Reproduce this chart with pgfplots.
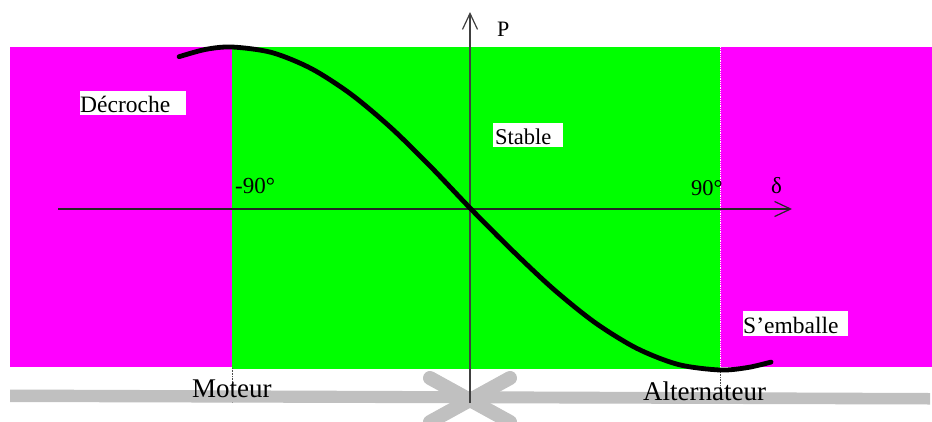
\documentclass[border=0pt]{standalone}
\usepackage{pgfplots}
\pgfplotsset{compat=1.18}
\usepackage{fontspec}
\setmainfont{Liberation Serif}
\usetikzlibrary{arrows.meta}
\definecolor{mag}{HTML}{FF00FF}
\definecolor{grn}{HTML}{00FF00}
\definecolor{band}{HTML}{C0C0C0}
\begin{document}
\begin{tikzpicture}
\begin{axis}[name=ax,
  width=932pt, height=421pt, scale only axis,
  xmin=0, xmax=932, ymin=0, ymax=421, y dir=reverse,
  hide axis]
% background
\addplot[fill=white, draw=none] coordinates {(0,0)(932,0)(932,421)(0,421)} -- cycle;
% zones
\addplot[fill=mag, draw=none] coordinates {(10,47)(232,47)(232,367)(10,367)} -- cycle;
\addplot[fill=grn, draw=none] coordinates {(232,47)(720,47)(720,368.5)(232,368.5)} -- cycle;
\addplot[fill=mag, draw=none] coordinates {(720,47)(932,47)(932,367)(720,367)} -- cycle;
\addplot[white, densely dotted, line width=0.8pt] coordinates {(720,47)(720,367)};
\addplot[black!70, densely dotted, line width=0.6pt] coordinates {(232,368)(232,403)};
\addplot[black!70, densely dotted, line width=0.6pt] coordinates {(720,369)(720,395)};
% grey band and cross
\addplot[fill=band, draw=none] coordinates {(10,389.5)(930,393)(930,404.5)(10,402)} -- cycle;
\addplot[band, line width=14pt, line cap=round] coordinates {(430,378)(510,422)};
\addplot[band, line width=14pt, line cap=round] coordinates {(430,422)(510,378)};
% axes
\addplot[black!85, line width=1.3pt, -{Straight Barb[length=16pt,width=15pt,line width=1.2pt]}] coordinates {(58,209)(792,209)};
\addplot[black!75, line width=1.3pt, -{Straight Barb[length=16pt,width=15pt,line width=1.2pt]}] coordinates {(470,403)(470,12)};
% curve P = -sin(delta)
\addplot[black, line width=4.8pt, smooth, line cap=round] coordinates {
(179.1,56.7)(205.6,49.4)(232,47)(271.7,52.5)(311.3,68.6)(351,94.2)(390.7,127.5)(430.3,166.3)
(470,208)(511.7,249.9)(553.3,289)(595,322.6)(636.7,348.3)(678.3,364.5)(720,370)(747.8,367.5)(771,362.1)};
% label boxes
\addplot[fill=white, draw=none] coordinates {(80,91)(186,91)(186,115)(80,115)} -- cycle;
\addplot[fill=white, draw=none] coordinates {(493,123)(563,123)(563,147)(493,147)} -- cycle;
\addplot[fill=white, draw=none] coordinates {(743,311)(848,311)(848,336)(743,336)} -- cycle;
% texts
\node[anchor=base west, inner sep=0pt, font=\fontsize{23.5}{27}\selectfont] at (axis cs:80,112) {Décroche};
\node[anchor=base west, inner sep=0pt, font=\fontsize{22.5}{27}\selectfont] at (axis cs:495,144) {Stable};
\node[anchor=base west, inner sep=0pt, font=\fontsize{23.5}{27}\selectfont] at (axis cs:743,333) {S’emballe};
\node[anchor=base west, inner sep=0pt, font=\fontsize{27}{30}\selectfont] at (axis cs:192,397) {Moteur};
\node[anchor=base west, inner sep=0pt, font=\fontsize{27}{30}\selectfont] at (axis cs:643,400) {Alternateur};
\node[anchor=base west, inner sep=0pt, font=\fontsize{23}{27}\selectfont] at (axis cs:235,193) {-90°};
\node[anchor=base west, inner sep=0pt, font=\fontsize{22.5}{27}\selectfont] at (axis cs:691,195) {90°};
\node[anchor=base west, inner sep=0pt, font=\fontsize{23}{27}\selectfont] at (axis cs:771,193) {δ};
\node[anchor=base west, inner sep=0pt, font=\fontsize{22}{27}\selectfont] at (axis cs:497,36) {P};
\end{axis}
\pgfresetboundingbox
\path (ax.south west) rectangle (ax.north east);
\end{tikzpicture}
\end{document}
